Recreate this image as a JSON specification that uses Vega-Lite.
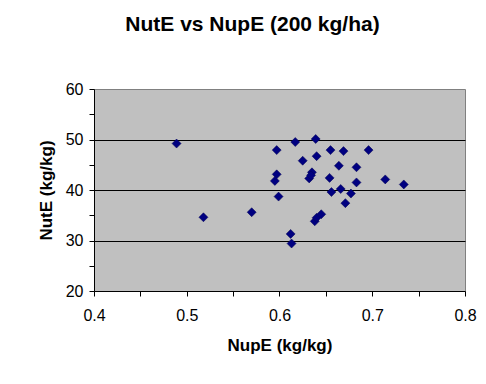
{
  "$schema": "https://vega.github.io/schema/vega-lite/v6.json",
  "width": 371,
  "height": 202,
  "autosize": {"type": "none"},
  "padding": {"left": 94, "top": 89, "right": 21, "bottom": 93},
  "background": "white",
  "title": {
    "text": "NutE vs NupE (200 kg/ha)",
    "font": "Liberation Sans",
    "fontSize": 21,
    "fontWeight": "bold",
    "color": "black",
    "anchor": "middle",
    "dx": -27,
    "offset": 46
  },
  "config": {
    "view": {"fill": "#c0c0c0", "stroke": "#808080", "strokeWidth": 1},
    "axis": {
      "labelFont": "Liberation Sans",
      "labelFontSize": 16,
      "labelColor": "black",
      "titleFont": "Liberation Sans",
      "titleFontSize": 17,
      "titleFontWeight": "bold",
      "titleColor": "black",
      "domainColor": "black",
      "tickColor": "black",
      "tickSize": 5
    }
  },
  "data": {
    "values": [
      {"NupE": 0.489, "NutE": 49.2},
      {"NupE": 0.518, "NutE": 34.6},
      {"NupE": 0.570, "NutE": 35.6},
      {"NupE": 0.597, "NutE": 47.9},
      {"NupE": 0.597, "NutE": 43.1},
      {"NupE": 0.595, "NutE": 41.8},
      {"NupE": 0.599, "NutE": 38.7},
      {"NupE": 0.612, "NutE": 31.3},
      {"NupE": 0.613, "NutE": 29.4},
      {"NupE": 0.617, "NutE": 49.5},
      {"NupE": 0.639, "NutE": 50.1},
      {"NupE": 0.625, "NutE": 45.8},
      {"NupE": 0.640, "NutE": 46.7},
      {"NupE": 0.635, "NutE": 43.5},
      {"NupE": 0.632, "NutE": 42.3},
      {"NupE": 0.634, "NutE": 42.9},
      {"NupE": 0.638, "NutE": 33.8},
      {"NupE": 0.640, "NutE": 34.5},
      {"NupE": 0.645, "NutE": 35.2},
      {"NupE": 0.655, "NutE": 47.9},
      {"NupE": 0.669, "NutE": 47.7},
      {"NupE": 0.664, "NutE": 44.8},
      {"NupE": 0.683, "NutE": 44.5},
      {"NupE": 0.654, "NutE": 42.4},
      {"NupE": 0.656, "NutE": 39.6},
      {"NupE": 0.666, "NutE": 40.2},
      {"NupE": 0.683, "NutE": 41.5},
      {"NupE": 0.677, "NutE": 39.3},
      {"NupE": 0.671, "NutE": 37.4},
      {"NupE": 0.696, "NutE": 47.9},
      {"NupE": 0.714, "NutE": 42.1},
      {"NupE": 0.734, "NutE": 41.1}
    ]
  },
  "mark": {"type": "point", "shape": "diamond", "filled": true, "size": 81, "color": "#000080", "opacity": 1, "stroke": "#000050", "strokeWidth": 0.5},
  "encoding": {
    "x": {
      "field": "NupE",
      "type": "quantitative",
      "title": "NupE (kg/kg)",
      "scale": {"domain": [0.4, 0.8], "nice": false, "zero": false},
      "axis": {
        "values": [0.4, 0.45, 0.5, 0.55, 0.6, 0.65, 0.7, 0.75, 0.8],
        "labelExpr": "round(datum.value * 100) % 10 === 0 ? format(datum.value, '.1f') : ''",
        "grid": false,
        "labelPadding": 11,
        "titlePadding": 14,
        "labelFlush": false
      }
    },
    "y": {
      "field": "NutE",
      "type": "quantitative",
      "title": "NutE (kg/kg)",
      "scale": {"domain": [20, 60], "nice": false, "zero": false},
      "axis": {
        "values": [20, 25, 30, 35, 40, 45, 50, 55, 60],
        "labelExpr": "datum.value % 10 === 0 ? datum.label : ''",
        "grid": true,
        "gridColor": "black",
        "gridOpacity": {"condition": {"test": "datum.value % 10 === 0 && datum.value > 20 && datum.value < 60", "value": 1}, "value": 0},
        "labelPadding": 6,
        "titlePadding": 10,
        "labelFlush": false
      }
    }
  }
}
